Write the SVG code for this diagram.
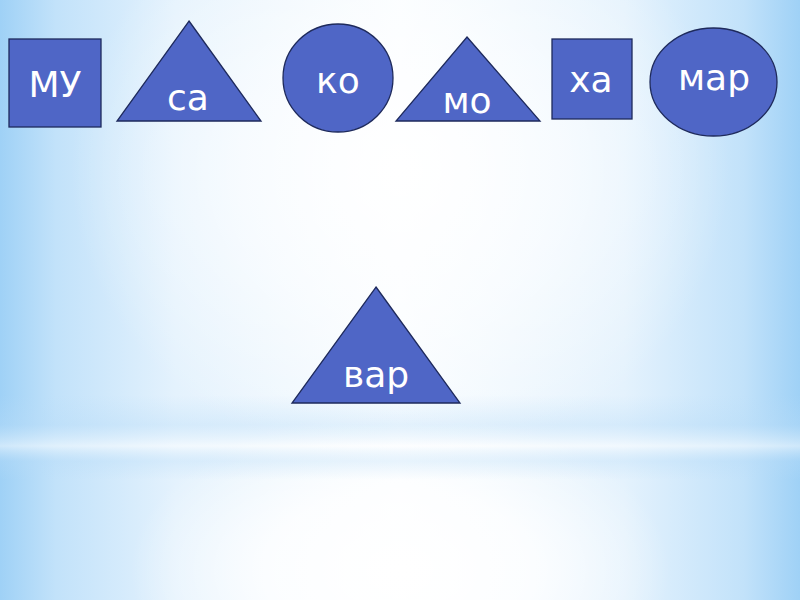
<svg xmlns="http://www.w3.org/2000/svg" width="800" height="600" viewBox="0 0 800 600">
<defs>
<linearGradient id="bgH" x1="0" y1="0" x2="1" y2="0">
<stop offset="0" stop-color="#9fd1f6"/>
<stop offset="0.07" stop-color="#c2e2fa"/>
<stop offset="0.22" stop-color="#e4f2fd"/>
<stop offset="0.5" stop-color="#f8fcff"/>
<stop offset="0.78" stop-color="#e4f2fd"/>
<stop offset="0.93" stop-color="#c2e2fa"/>
<stop offset="1" stop-color="#9fd1f6"/>
</linearGradient>
<radialGradient id="glowTop" cx="400" cy="170" r="330" gradientUnits="userSpaceOnUse" gradientTransform="translate(400 170) scale(1 0.9) translate(-400 -170)">
<stop offset="0" stop-color="#ffffff" stop-opacity="1"/>
<stop offset="0.5" stop-color="#ffffff" stop-opacity="0.6"/>
<stop offset="1" stop-color="#ffffff" stop-opacity="0"/>
</radialGradient>
<radialGradient id="glowBot" cx="400" cy="570" r="270" gradientUnits="userSpaceOnUse" gradientTransform="translate(400 570) scale(1 0.6) translate(-400 -570)">
<stop offset="0" stop-color="#ffffff" stop-opacity="1"/>
<stop offset="0.5" stop-color="#ffffff" stop-opacity="0.8"/>
<stop offset="1" stop-color="#ffffff" stop-opacity="0"/>
</radialGradient>
<linearGradient id="band" x1="0" y1="395" x2="0" y2="480" gradientUnits="userSpaceOnUse">
<stop offset="0" stop-color="#b8dcf8" stop-opacity="0"/>
<stop offset="0.35" stop-color="#b8dcf8" stop-opacity="0.35"/>
<stop offset="0.6" stop-color="#ffffff" stop-opacity="0.5"/>
<stop offset="0.78" stop-color="#b8dcf8" stop-opacity="0.3"/>
<stop offset="1" stop-color="#b8dcf8" stop-opacity="0"/>
</linearGradient>
</defs>
<style>
.shape{fill:#4f66c6;stroke:#1e2a5c;stroke-width:1.3}
.lbl{fill:#ffffff;font-family:"DejaVu Sans","Noto Sans",sans-serif;font-size:36px;text-anchor:middle}
</style>
<g id="background">
<rect x="0" y="0" width="800" height="600" fill="url(#bgH)"/>
<rect x="0" y="0" width="800" height="600" fill="url(#glowTop)"/>
<rect x="0" y="0" width="800" height="600" fill="url(#glowBot)"/>
<rect x="0" y="395" width="800" height="85" fill="url(#band)"/>
</g>
<g id="connectors"></g>
<g id="node-mu">
<rect class="shape" x="9" y="39" width="92" height="88"/>
<text class="lbl" x="55" y="97">МУ</text>
</g>
<g id="node-sa">
<polygon class="shape" points="189,21 261,121 117,121"/>
<text class="lbl" x="188" y="110">са</text>
</g>
<g id="node-ko">
<ellipse class="shape" cx="338" cy="78" rx="55" ry="54"/>
<text class="lbl" x="338" y="93">ко</text>
</g>
<g id="node-mo">
<polygon class="shape" points="467,37 540,121 396,121"/>
<text class="lbl" x="467" y="113">мо</text>
</g>
<g id="node-ha">
<rect class="shape" x="552" y="39" width="80" height="80"/>
<text class="lbl" x="591" y="92">ха</text>
</g>
<g id="node-mar">
<ellipse class="shape" cx="713.5" cy="82" rx="63.5" ry="54"/>
<text class="lbl" x="714" y="90">мар</text>
</g>
<g id="node-var">
<polygon class="shape" points="376,287 460,403 292,403"/>
<text class="lbl" x="376" y="387">вар</text>
</g>
</svg>
